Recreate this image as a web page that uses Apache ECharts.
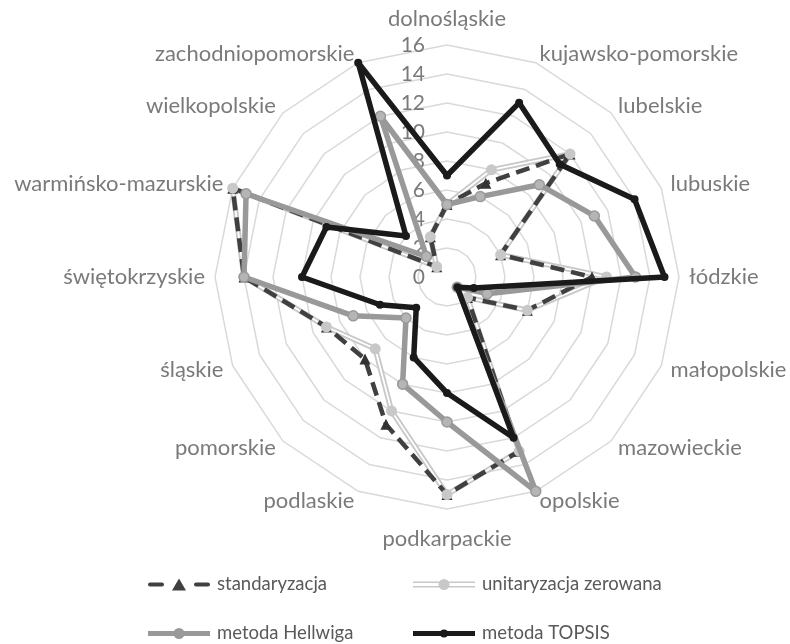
<!DOCTYPE html>
<html><head><meta charset="utf-8">
<script src="https://cdn.jsdelivr.net/npm/echarts@6/dist/echarts.min.js"></script>
<style>html,body{margin:0;padding:0;background:#fff}#c{width:790px;height:644px}</style>
</head><body><div id="c"></div>
<script>
// Categories clockwise from the top
const categories = ['dolnośląskie','kujawsko-pomorskie','lubelskie','lubuskie','łódzkie','małopolskie','mazowieckie','opolskie','podkarpackie','podlaskie','pomorskie','śląskie','świętokrzyskie','warmińsko-mazurskie','wielkopolskie','zachodniopomorskie'];
const standaryzacja = [5,7,12,4,10,6,2,13,15,11,8,9,14,16,1,3];
const unitaryzacja  = [5,8,12,4,11,6,2,13,15,10,7,9,14,16,1,3];
const hellwig       = [5,6,9,11,13,3,1,16,10,8,4,7,14,15,2,12];
const topsis        = [7,13,11,14,15,2,1,12,8,6,3,5,10,9,4,16];
const seriesNames = ['standaryzacja','unitaryzacja zerowana','metoda Hellwiga','metoda TOPSIS'];
const axisMin = 0, axisMax = 16, splitNum = 8;

// ECharts radar goes counter-clockwise; reorder so the picture runs clockwise
const order = [0].concat(categories.map((_, i) => i).slice(1).reverse());
const reorder = arr => order.map(i => arr[i]);

const FONT = 'Lato';
const GRAY = '#7a7a7a';

const indicator = order.map((i, k) => {
  const o = { name: categories[i], min: axisMin, max: axisMax };
  if (k === 0) {
    o.axisLabel = { show: true, color: GRAY, fontSize: 21, fontFamily: FONT, margin: 22, showMinLabel: true, showMaxLabel: true };
  }
  return o;
});

function radarSeries(name, values, z, style) {
  return Object.assign({
    type: 'radar', name: name, z: z,
    data: [{ name: name, value: reorder(values) }]
  }, style);
}

const series = [
  radarSeries(seriesNames[1], unitaryzacja, 2, {
    symbol: 'none', lineStyle: { color: '#c8c8c8', width: 5.5 }, itemStyle: { color: '#c8c8c8' }
  }),
  radarSeries(seriesNames[1], unitaryzacja, 3, {
    symbol: 'none', lineStyle: { color: '#ffffff', width: 1.8 }, itemStyle: { color: '#c8c8c8' }
  }),
  radarSeries(seriesNames[0], standaryzacja, 4, {
    symbol: 'triangle', symbolSize: 11,
    lineStyle: { color: '#404040', width: 4.5, type: [14, 7] },
    itemStyle: { color: '#333333' }
  }),
  radarSeries(seriesNames[1], unitaryzacja, 5, {
    symbol: 'circle', symbolSize: 11, lineStyle: { opacity: 0, width: 0 },
    itemStyle: { color: '#c8c8c8', borderWidth: 0 }
  }),
  radarSeries(seriesNames[2], hellwig, 6, {
    symbol: 'circle', symbolSize: 10,
    lineStyle: { color: '#999999', width: 5.5 },
    itemStyle: { color: '#b5b5b5', borderColor: '#999999', borderWidth: 1.5 }
  }),
  radarSeries(seriesNames[3], topsis, 7, {
    symbol: 'circle', symbolSize: 8,
    lineStyle: { color: '#1a1a1a', width: 5.5 },
    itemStyle: { color: '#1a1a1a' }
  })
];

const icons = {
  'standaryzacja': 'path://M2 4h12a2 2 0 0 1 0 4h-12a2 2 0 0 1 0 -4Z M48 4h12a2 2 0 0 1 0 4h-12a2 2 0 0 1 0 -4Z M24 12L31 0L38 12Z',
  'unitaryzacja zerowana': 'path://M0 3h62v1.6H0Z M0 7.4h62v1.6H0Z M25.5 6a5.5 5.5 0 1 1 11 0a5.5 5.5 0 1 1 -11 0Z',
  'metoda Hellwiga': 'path://M0 3.5h62v5H0Z M25.5 6a5.5 5.5 0 1 1 11 0a5.5 5.5 0 1 1 -11 0Z',
  'metoda TOPSIS': 'path://M0 3.5h62v5H0Z M27 6a4 4 0 1 1 8 0a4 4 0 1 1 -8 0Z'
};
const legendColors = { 'standaryzacja': '#404040', 'unitaryzacja zerowana': '#c8c8c8', 'metoda Hellwiga': '#999999', 'metoda TOPSIS': '#1a1a1a' };
const legendPos = [[143, 570], [408, 570], [143, 619], [408, 619]];
const legendHeights = { 'standaryzacja': 12, 'unitaryzacja zerowana': 11, 'metoda Hellwiga': 11, 'metoda TOPSIS': 8 };

const legend = seriesNames.map((n, k) => ({
  data: [{ name: n, icon: icons[n], itemStyle: { color: legendColors[n], borderWidth: 0 } }],
  left: legendPos[k][0], top: legendPos[k][1],
  itemWidth: 62, itemHeight: legendHeights[n], itemGap: 0,
  selectedMode: false,
  textStyle: { color: '#595959', fontSize: 18.5, fontFamily: FONT, padding: [0, 0, 0, 2] }
}));

const chart = echarts.init(document.getElementById('c'), null, { renderer: 'canvas' });
chart.setOption({
  animation: false,
  backgroundColor: '#ffffff',
  legend: legend,
  radar: {
    center: [447, 277],
    radius: 232,
    startAngle: 90,
    shape: 'polygon',
    splitNumber: splitNum,
    nameGap: 10,
    axisName: { color: GRAY, fontSize: 22, fontFamily: FONT, padding: [9, 0, 5, 0] },
    axisLine: { show: false },
    axisTick: { show: false },
    axisLabel: { show: false },
    splitLine: { lineStyle: { color: '#d9d9d9', width: 1.5 } },
    splitArea: { show: false },
    indicator: indicator
  },
  series: series
});
</script>
</body></html>
